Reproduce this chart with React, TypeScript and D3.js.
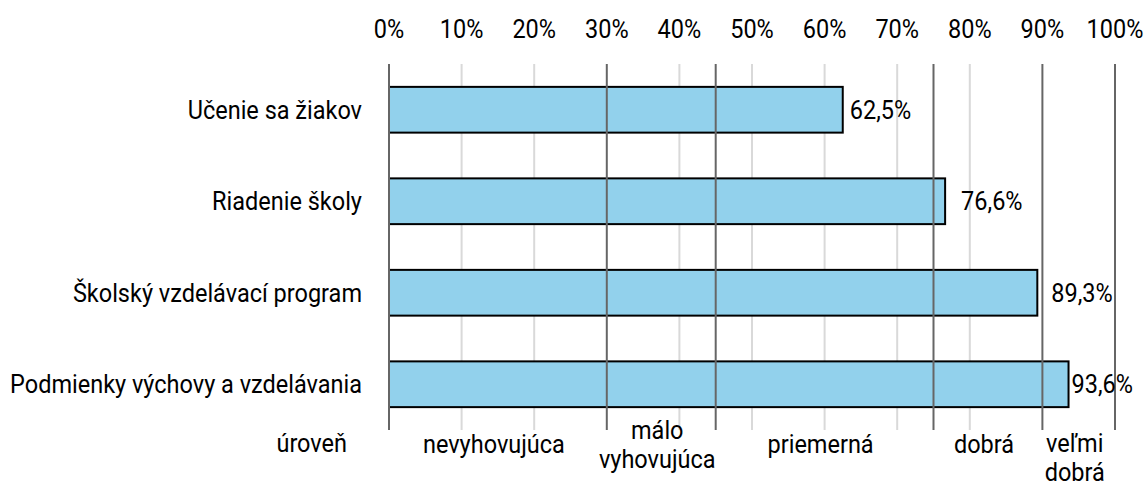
import * as d3 from "d3";
import { useEffect, useRef } from "react";

const categories = [
  "Učenie sa žiakov",
  "Riadenie školy",
  "Školský vzdelávací program",
  "Podmienky výchovy a vzdelávania",
];
const values = [62.5, 76.6, 89.3, 93.6];
const xTicks = [0, 10, 20, 30, 40, 50, 60, 70, 80, 90, 100];
const levelBounds = [0, 30, 45, 75, 90, 100];
const levelLabels = [
  ["nevyhovujúca"],
  ["málo", "vyhovujúca"],
  ["priemerná"],
  ["dobrá"],
  ["veľmi", "dobrá"],
];
const levelTitle = "úroveň";

// small nudges so value labels sit clear of the level lines
const labelNudge = [7, 16, 14, 3];

const W = 1144;
const H = 481;
const SX = 0.94; // condensed look

export default function App() {
  const ref = useRef<SVGSVGElement>(null);

  useEffect(() => {
    document.body.style.margin = "0";
    const svg = d3.select(ref.current);
    svg.selectAll("*").remove();

    const x = d3.scaleLinear().domain([0, 100]).range([389, 1115]);
    const y = d3
      .scaleBand()
      .domain(categories)
      .range([64, 430])
      .paddingInner(0.5)
      .paddingOuter(0.25);

    const font = "Roboto, sans-serif";

    const addText = (
      g: any,
      tx: number,
      ty: number,
      txt: string,
      anchor: string
    ) => {
      g.append("text")
        .attr("transform", `translate(${tx},${ty}) scale(${SX},1)`)
        .attr("text-anchor", anchor)
        .attr("font-family", font)
        .attr("font-size", 25)
        .attr("fill", "#000")
        .text(txt);
    };

    // light grid
    const minor = xTicks.filter((t) => !levelBounds.includes(t));
    svg
      .append("g")
      .selectAll("line")
      .data(minor)
      .join("line")
      .attr("x1", (d) => x(d))
      .attr("x2", (d) => x(d))
      .attr("y1", 64)
      .attr("y2", 430)
      .attr("stroke", "#d9d9d9")
      .attr("stroke-width", 2);

    // bars
    svg
      .append("g")
      .selectAll("rect")
      .data(values)
      .join("rect")
      .attr("x", x(0))
      .attr("y", (d, i) => y(categories[i])!)
      .attr("width", (d) => x(d) - x(0))
      .attr("height", y.bandwidth())
      .attr("fill", "#92d1ec")
      .attr("stroke", "#000")
      .attr("stroke-width", 2);

    // level lines on top
    svg
      .append("g")
      .selectAll("line")
      .data(levelBounds)
      .join("line")
      .attr("x1", (d) => x(d))
      .attr("x2", (d) => x(d))
      .attr("y1", 64)
      .attr("y2", 430)
      .attr("stroke", "#666")
      .attr("stroke-width", 2);

    const txt = svg.append("g");

    // top tick labels
    xTicks.forEach((t) => addText(txt, x(t), 38, `${t}%`, "middle"));

    // category labels
    categories.forEach((c) =>
      addText(txt, 362, y(c)! + y.bandwidth() / 2 + 8.8, c, "end")
    );

    // value labels
    values.forEach((v, i) =>
      addText(
        txt,
        x(v) + labelNudge[i],
        y(categories[i])! + y.bandwidth() / 2 + 8.8,
        `${v.toFixed(1).replace(".", ",")}%`,
        "start"
      )
    );

    // level labels
    addText(txt, 347, 452, levelTitle, "end");
    levelLabels.forEach((lines, i) => {
      const cx = (x(levelBounds[i]) + x(levelBounds[i + 1])) / 2 - 4;
      const last = i === levelLabels.length - 1;
      const y0 = lines.length === 1 ? 453 : last ? 452 : 438.5;
      lines.forEach((l, j) => addText(txt, cx, y0 + j * 29, l, "middle"));
    });
  }, []);

  return <svg ref={ref} width={W} height={H} style={{ display: "block" }} />;
}
